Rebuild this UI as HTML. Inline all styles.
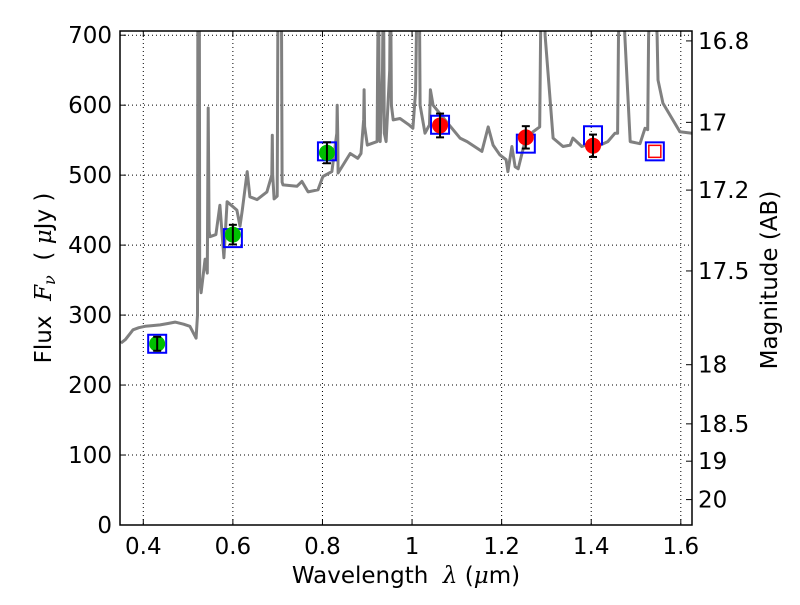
<!DOCTYPE html>
<html><head><meta charset="utf-8"><style>
body{margin:0;background:#fff}
svg text{font-family:"DejaVu Sans","Liberation Sans",sans-serif;fill:#000}
</style></head><body>
<svg id="chart" width="800" height="600" xmlns="http://www.w3.org/2000/svg"></svg>
<script>
const xTicks=[0.4,0.6,0.8,1.0,1.2,1.4,1.6];
const xTickLabels=["0.4","0.6","0.8","1","1.2","1.4","1.6"];
const yTicks=[0,100,200,300,400,500,600,700];
const magTicks=[16.8,17,17.2,17.5,18,18.5,19,20];
const magTickLabels=["16.8","17","17.2","17.5","18","18.5","19","20"];
const specLam=[0.350,0.360,0.377,0.390,0.404,0.420,0.4375,0.455,0.471,0.490,0.504,0.518,0.521,0.522,0.525,0.526,0.529,0.538,0.543,0.545,0.547,0.549,0.562,0.571,0.580,0.587,0.609,0.616,0.621,0.632,0.638,0.654,0.676,0.687,0.688,0.689,0.692,0.699,0.701,0.708,0.710,0.712,0.743,0.754,0.768,0.790,0.801,0.821,0.832,0.833,0.834,0.835,0.862,0.879,0.886,0.892,0.893,0.894,0.900,0.922,0.923,0.925,0.927,0.929,0.934,0.936,0.938,0.942,0.950,0.952,0.954,0.958,0.973,0.993,1.002,1.008,1.012,1.016,1.018,1.029,1.039,1.040,1.041,1.047,1.080,1.107,1.123,1.156,1.170,1.181,1.196,1.210,1.214,1.223,1.230,1.237,1.252,1.270,1.285,1.287,1.291,1.293,1.297,1.315,1.337,1.353,1.359,1.379,1.397,1.420,1.437,1.453,1.459,1.461,1.468,1.470,1.475,1.487,1.509,1.520,1.526,1.528,1.537,1.539,1.547,1.549,1.560,1.598,1.625];
const specFlux=[260,265,279,282,284,285,286,288,290,287,284,267,300,800,800,350,332,380,360,596,420,412,415,457,382,462,450,427,450,505,469,465,476,500,557,500,466,470,800,800,490,486,484,491,476,479,498,505,560,600,560,503,531,524,531,580,622,570,543,548,650,800,560,548,650,800,560,548,650,800,600,579,581,572,567,620,800,800,600,560,572,600,622,600,574,553,548,534,569,543,529,522,505,541,512,509,548,562,569,700,800,800,700,553,541,543,553,541,545,543,548,560,560,700,800,800,700,548,545,567,565,700,800,800,700,636,603,562,560,557];
const greenLam=[0.431,0.600,0.810];
const greenFlux=[259,415,532];
const greenErr=[10,14,15];
const redLam=[1.0625,1.254,1.404];
const redFlux=[571,554,542];
const redErr=[17,16,16];
const modelLam=[0.431,0.600,0.810,1.0625,1.254,1.404,1.542];
const modelFlux=[259,410,534,572,545,557,534];
const hollowLam=[1.542];
const hollowFlux=[534];

const L=120,R=692,T=31,B=525;
const xmin=0.348,xmax=1.625,ymin=0,ymax=706;
const X=v=>L+(v-xmin)/(xmax-xmin)*(R-L);
const Y=v=>B-(v-ymin)/(ymax-ymin)*(B-T);
const svg=document.getElementById('chart');
const NS='http://www.w3.org/2000/svg';
function mk(tag,attrs,parent){const e=document.createElementNS(NS,tag);for(const k in attrs)e.setAttribute(k,attrs[k]);(parent||svg).appendChild(e);return e;}

const defs=mk('defs',{});
const cp=mk('clipPath',{id:'clip'},defs);
mk('rect',{x:L,y:T,width:R-L,height:B-T},cp);

const grid=mk('g',{});


xTicks.forEach(v=>{mk('line',{x1:X(v),x2:X(v),y1:T,y2:B,stroke:'#000','stroke-width':1,'stroke-dasharray':'1,3'},grid);});
yTicks.forEach(v=>{mk('line',{x1:L,x2:R,y1:Y(v),y2:Y(v),stroke:'#000','stroke-width':1,'stroke-dasharray':'1,3'},grid);});

const pts=specLam.map((l,i)=>X(l).toFixed(1)+','+Y(specFlux[i]).toFixed(1)).join(' ');
const spec=mk('polyline',{points:pts,fill:'none',stroke:'#808080','stroke-width':3,'clip-path':'url(#clip)','stroke-linejoin':'round'});



modelLam.forEach((l,i)=>{
  const r=mk('rect',{x:X(l)-9,y:Y(modelFlux[i])-9,width:18,height:18,fill:'none',stroke:'#0000ff','stroke-width':2});
  
  
});
hollowLam.forEach((l,i)=>{
  const r=mk('rect',{x:X(l)-6,y:Y(hollowFlux[i])-6,width:12,height:12,fill:'none',stroke:'#ff0000','stroke-width':1.5});
  
  
});
function pointsWithErr(lam,flux,err,color,name){
  lam.forEach((l,i)=>{
    const c=mk('circle',{cx:X(l),cy:Y(flux[i]),r:8,fill:color});
    
    
    const g=mk('g',{stroke:'#000','stroke-width':2});
    
    
    const x=X(l),y1=Y(flux[i]-err[i]),y2=Y(flux[i]+err[i]);
    mk('line',{x1:x,x2:x,y1:y1,y2:y2},g);
    mk('line',{x1:x-4,x2:x+4,y1:y1,y2:y1},g);
    mk('line',{x1:x-4,x2:x+4,y1:y2,y2:y2},g);
  });
}
pointsWithErr(greenLam,greenFlux,greenErr,'#00bf00','optical-photometry-point');
pointsWithErr(redLam,redFlux,redErr,'#ff0000','nir-photometry-point');

const fr=mk('rect',{x:L,y:T,width:R-L,height:B-T,fill:'none',stroke:'#000','stroke-width':1.5});



xTicks.forEach((v,i)=>{
  mk('line',{x1:X(v),x2:X(v),y1:B,y2:B-6,stroke:'#000'});
  mk('line',{x1:X(v),x2:X(v),y1:T,y2:T+6,stroke:'#000'});
  const t=mk('text',{x:X(v),y:B+29,'font-size':23,'text-anchor':'middle'});
  t.textContent=xTickLabels[i];
  
  
});
yTicks.forEach(v=>{
  mk('line',{x1:L,x2:L+6,y1:Y(v),y2:Y(v),stroke:'#000'});
  const t=mk('text',{x:L-8,y:Y(v)+8,'font-size':23,'text-anchor':'end'});
  t.textContent=String(v);
  
  
});
magTicks.forEach((m,i)=>{
  const f=Math.pow(10,(23.9-m)/2.5);
  const y=Y(f);
  mk('line',{x1:R,x2:R-6,y1:y,y2:y,stroke:'#000'});
  const t=mk('text',{x:R+6,y:y+8,'font-size':23,'text-anchor':'start'});
  t.textContent=magTickLabels[i];
  
  
});

const xt=mk('text',{x:406,y:583,'font-size':23,'text-anchor':'middle'});
xt.innerHTML='Wavelength&#160; <tspan font-style="italic" font-family="DejaVu Serif, serif">λ</tspan> (<tspan font-style="italic" font-family="DejaVu Serif, serif">μ</tspan>m)';


const yt=mk('text',{x:0,y:0,'font-size':23,'text-anchor':'middle',transform:'translate(51,278) rotate(-90)'});
yt.innerHTML='Flux&#160; <tspan font-style="italic" font-family="DejaVu Serif, serif">F</tspan><tspan font-style="italic" font-size="16" dy="4" font-family="DejaVu Serif, serif">ν</tspan><tspan dy="-4">&#160; ( </tspan><tspan font-style="italic" font-family="DejaVu Serif, serif">μ</tspan>Jy )';


const rt=mk('text',{x:0,y:0,'font-size':23,'text-anchor':'middle',transform:'translate(777,280) rotate(-90)'});
rt.textContent='Magnitude (AB)';


</script>
</body></html>
